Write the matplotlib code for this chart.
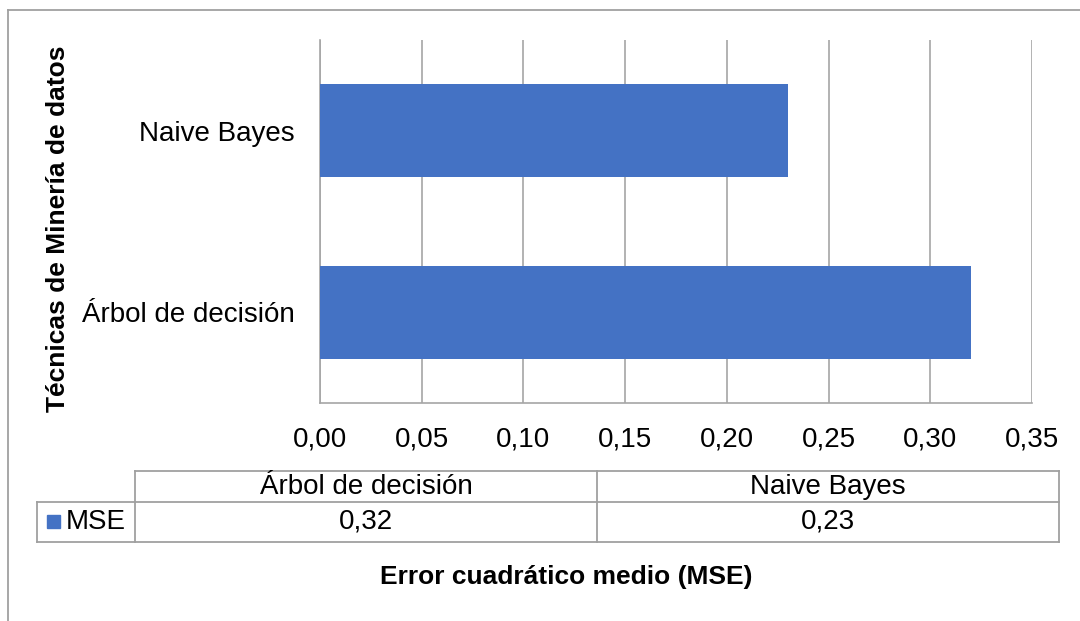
import matplotlib
matplotlib.use("Agg")
import matplotlib.pyplot as plt
from matplotlib.lines import Line2D
from matplotlib.patches import Rectangle
from matplotlib.ticker import FuncFormatter, MultipleLocator

plt.rcParams['font.family'] = ['Liberation Sans', 'DejaVu Sans']

# ---- data ----
categories = ['Árbol de decisión', 'Naive Bayes']
mse_values = [0.32, 0.23]
series_name = 'MSE'
x_label = 'Error cuadrático medio (MSE)'
y_label = 'Técnicas de Minería de datos'

W, H = 1080, 621
BAR_COLOR = '#4472C4'
GRID = '#a6a6a6'

fig = plt.figure(figsize=(W / 100, H / 100), dpi=100)

def fx(x):
    return x / W

def fy(y):
    return 1 - y / H

# outer chart border
fig.add_artist(Line2D([fx(8), fx(1085)], [fy(10), fy(10)], color='#a0a0a0', lw=1.3))
fig.add_artist(Line2D([fx(8), fx(8)], [fy(10), fy(630)], color='#a0a0a0', lw=1.3))

# plot area
left, right, top, bottom = 320, 1032, 40, 403
ax = fig.add_axes([fx(left), fy(bottom), (right - left) / W, (bottom - top) / H])
ypos = list(range(len(categories)))
ax.barh(ypos, mse_values, height=0.51, color=BAR_COLOR, zorder=3)
ax.set_xlim(0, 0.35)
ax.set_ylim(-0.5, len(categories) - 0.5)
ax.xaxis.set_major_locator(MultipleLocator(0.05))
ax.xaxis.set_major_formatter(FuncFormatter(lambda v, p: f"{v:.2f}".replace('.', ',')))
ax.set_yticks(ypos)
ax.set_yticklabels(categories)
ax.grid(axis='x', color=GRID, lw=1.2, zorder=0)
ax.set_axisbelow(True)
for s in ['top', 'right']:
    ax.spines[s].set_visible(False)
for s in ['left', 'bottom']:
    ax.spines[s].set_color(GRID)
    ax.spines[s].set_linewidth(1.2)
ax.tick_params(axis='x', length=0, pad=17, labelsize=20, colors='black')
ax.tick_params(axis='y', length=0, pad=18, labelsize=20, colors='black')

# axis titles
fig.text(fx(58), fy(229), y_label, rotation=90, ha='center', va='center',
         fontsize=19, fontweight='bold')
fig.text(fx(566), fy(577), x_label, ha='center', va='center',
         fontsize=19, fontweight='bold')

# data table
tl, tr = 135, 1059
leg_l = 37
r_top, r_mid, r_bot = 471, 502, 542
ncol = len(categories)
col_w = (tr - tl) / ncol
lc = '#a0a0a0'
lw = 1.3
def hline(x0, x1, y):
    fig.add_artist(Line2D([fx(x0), fx(x1)], [fy(y), fy(y)], color=lc, lw=lw))
def vline(x, y0, y1):
    fig.add_artist(Line2D([fx(x), fx(x)], [fy(y0), fy(y1)], color=lc, lw=lw))

hline(tl, tr, r_top)
hline(leg_l, tr, r_mid)
hline(leg_l, tr, r_bot)
vline(leg_l, r_mid, r_bot)
for i in range(ncol + 1):
    vline(tl + i * col_w, r_top, r_bot)

for i, (cat, val) in enumerate(zip(categories, mse_values)):
    cx = tl + (i + 0.5) * col_w
    fig.text(fx(cx), fy((r_top + r_mid) / 2), cat, ha='center', va='center', fontsize=20)
    fig.text(fx(cx), fy((r_mid + r_bot) / 2), f"{val:.2f}".replace('.', ','),
             ha='center', va='center', fontsize=20)

# legend key in table
fig.add_artist(Rectangle((fx(47), fy(528)), 13 / W, 13 / H, color=BAR_COLOR,
                         transform=fig.transFigure))
fig.text(fx(66), fy((r_mid + r_bot) / 2), series_name, ha='left', va='center', fontsize=20)

fig.savefig('out.png', dpi=100, facecolor='white')
